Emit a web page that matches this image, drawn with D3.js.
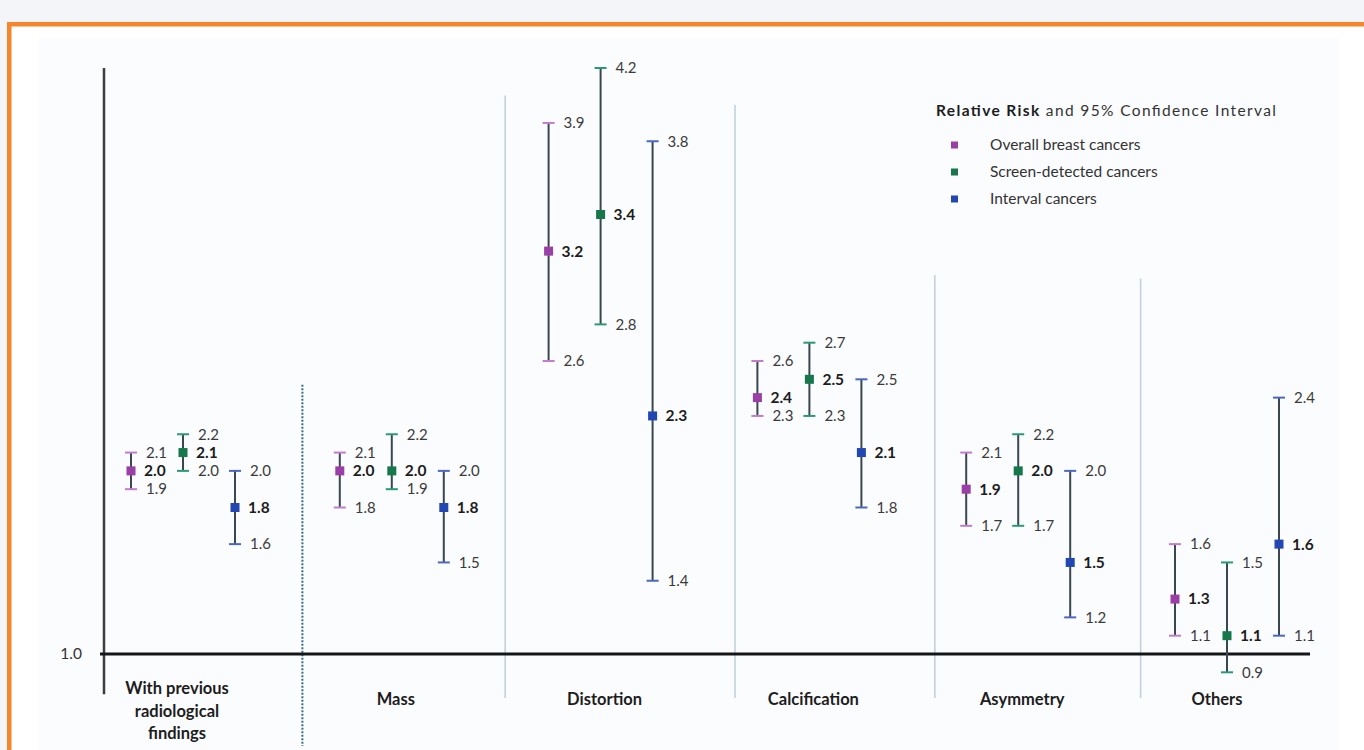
<!DOCTYPE html>
<html>
<head>
<meta charset="utf-8">
<script src="https://cdn.jsdelivr.net/npm/d3@7"></script>
<style>
  html, body { margin: 0; padding: 0; background: #f4f5f9; }
  svg { display: block; }
  text { font-family: Lato, "Open Sans", sans-serif; }
</style>
</head>
<body>
<div id="chart"></div>
<script>
(function() {
  'use strict';

  var categories = ['With previous radiological findings', 'Mass', 'Distortion', 'Calcification', 'Asymmetry', 'Others'];
  var categoryLines = [['With previous', 'radiological', 'findings'], ['Mass'], ['Distortion'], ['Calcification'], ['Asymmetry'], ['Others']];
  var seriesNames = ['Overall breast cancers', 'Screen-detected cancers', 'Interval cancers'];

  var overallRR = [2.0, 2.0, 3.2, 2.4, 1.9, 1.3];
  var overallLo = [1.9, 1.8, 2.6, 2.3, 1.7, 1.1];
  var overallHi = [2.1, 2.1, 3.9, 2.6, 2.1, 1.6];

  var screenRR = [2.1, 2.0, 3.4, 2.5, 2.0, 1.1];
  var screenLo = [2.0, 1.9, 2.8, 2.3, 1.7, 0.9];
  var screenHi = [2.2, 2.2, 4.2, 2.7, 2.2, 1.5];

  var intervalRR = [1.8, 1.8, 2.3, 2.1, 1.5, 1.6];
  var intervalLo = [1.6, 1.5, 1.4, 1.8, 1.2, 1.1];
  var intervalHi = [2.0, 2.0, 3.8, 2.5, 2.0, 2.4];

  // top of each separator line, in relative-risk units, and its shift past the band edge
  var separatorTops = [2.47, 4.05, 4.0, 3.07, 3.05];
  var separatorShift = [15, 9, 30, 21, 18];

  var markColors = ['#9a3fa6', '#16774a', '#2247b2'];
  var capColors = ['#c27ccc', '#2a9a72', '#4a68c2'];

  var width = 1364, height = 750;

  var svg = d3.select('#chart')
    .append('svg')
    .attr('width', width)
    .attr('height', height);

  // orange frame + picture area
  svg.append('rect')
    .attr('x', 7).attr('y', 22)
    .attr('width', width).attr('height', height)
    .attr('fill', '#f5862b');
  svg.append('rect')
    .attr('x', 11.5).attr('y', 26.5)
    .attr('width', width).attr('height', height)
    .attr('fill', '#ffffff');
  svg.append('rect')
    .attr('x', 38).attr('y', 38)
    .attr('width', 1301).attr('height', height)
    .attr('fill', '#fbfcfe');

  var y = d3.scaleLinear()
    .domain([1.0, 4.2])
    .range([654, 68]);

  var xGroup = d3.scaleBand()
    .domain(categories)
    .range([78.6, 1331.4]);

  var xSeries = d3.scalePoint()
    .domain(seriesNames)
    .range([-52, 52]);

  var fmt = d3.format('.1f');

  var rows = [];
  var rr = [overallRR, screenRR, intervalRR];
  var lo = [overallLo, screenLo, intervalLo];
  var hi = [overallHi, screenHi, intervalHi];
  categories.forEach(function(c, i) {
    seriesNames.forEach(function(s, j) {
      rows.push({
        cat: c, series: s, idx: j,
        rr: rr[j][i], lo: lo[j][i], hi: hi[j][i],
        x: xGroup(c) + xGroup.bandwidth() / 2 + xSeries(s)
      });
    });
  });

  // separators between groups
  function sepX(c, i) { return xGroup(c) + xGroup.bandwidth() + separatorShift[i]; }

  svg.selectAll('.sep')
    .data(categories.slice(0, -1))
    .enter().append('line')
    .attr('class', 'sep')
    .attr('x1', sepX)
    .attr('x2', sepX)
    .attr('y1', function(c, i) { return y(separatorTops[i]); })
    .attr('y2', function(c, i) { return i === 0 ? 746 : 698; })
    .attr('stroke', function(c, i) { return i === 0 ? '#3f6a86' : '#c3d1dc'; })
    .attr('stroke-width', function(c, i) { return i === 0 ? 2 : 1.6; })
    .attr('stroke-dasharray', function(c, i) { return i === 0 ? '2,1.5' : null; });

  // left axis and the 1.0 reference line
  svg.append('line')
    .attr('x1', 104).attr('x2', 104)
    .attr('y1', y(4.2)).attr('y2', y(0.78))
    .attr('stroke', '#3a3d44')
    .attr('stroke-width', 2.5);

  svg.append('line')
    .attr('x1', 100).attr('x2', 1310)
    .attr('y1', y(1.0)).attr('y2', y(1.0))
    .attr('stroke', '#141618')
    .attr('stroke-width', 3);

  svg.append('text')
    .attr('x', 82).attr('y', y(1.0))
    .attr('dy', '0.35em')
    .attr('text-anchor', 'end')
    .attr('font-size', 15.5)
    .attr('fill', '#333')
    .text(fmt(1.0));

  // error bars
  var bar = svg.selectAll('.bar')
    .data(rows)
    .enter().append('g')
    .attr('class', 'bar');

  bar.append('line')
    .attr('x1', function(d) { return d.x; })
    .attr('x2', function(d) { return d.x; })
    .attr('y1', function(d) { return y(d.hi); })
    .attr('y2', function(d) { return y(d.lo); })
    .attr('stroke', '#3b4750')
    .attr('stroke-width', 2);

  ['hi', 'lo'].forEach(function(k) {
    bar.append('line')
      .attr('x1', function(d) { return d.x - 6; })
      .attr('x2', function(d) { return d.x + 6; })
      .attr('y1', function(d) { return y(d[k]); })
      .attr('y2', function(d) { return y(d[k]); })
      .attr('stroke', function(d) { return capColors[d.idx]; })
      .attr('stroke-width', 2);

    bar.append('text')
      .attr('x', function(d) { return d.x + 15; })
      .attr('y', function(d) { return y(d[k]); })
      .attr('dy', '0.35em')
      .attr('font-size', 15)
      .attr('fill', '#3a3a3a')
      .text(function(d) { return fmt(d[k]); });
  });

  bar.append('rect')
    .attr('x', function(d) { return d.x - 4.5; })
    .attr('y', function(d) { return y(d.rr) - 4.5; })
    .attr('width', 9).attr('height', 9)
    .attr('fill', function(d) { return markColors[d.idx]; });

  bar.append('text')
    .attr('x', function(d) { return d.x + 13; })
    .attr('y', function(d) { return y(d.rr); })
    .attr('dy', '0.35em')
    .attr('font-size', 15.5)
    .attr('font-weight', 'bold')
    .attr('fill', '#1d1d1d')
    .text(function(d) { return fmt(d.rr); });

  // category labels
  var catLabel = svg.selectAll('.cat')
    .data(categories)
    .enter().append('text')
    .attr('class', 'cat')
    .attr('text-anchor', 'middle')
    .attr('font-size', 16.5)
    .attr('font-weight', 'bold')
    .attr('fill', '#1d1d1d')
    .attr('transform', function(c, i) {
      var lines = categoryLines[i].length;
      var cx = xGroup(c) + xGroup.bandwidth() / 2 + (i === 0 ? -6 : i === 5 ? -10 : 4);
      return 'translate(' + cx + ',' + (lines > 1 ? 694 : 705) + ')';
    });

  catLabel.selectAll('tspan')
    .data(function(c, i) { return categoryLines[i]; })
    .enter().append('tspan')
    .attr('x', 0)
    .attr('dy', function(t, i) { return i === 0 ? 0 : 22.5; })
    .text(function(t) { return t; });

  // legend
  var legend = svg.append('g')
    .attr('transform', 'translate(936,111)');

  var title = legend.append('text')
    .attr('dy', '0.35em')
    .attr('font-size', 15.5)
    .attr('fill', '#333')
    .attr('textLength', 340)
    .attr('lengthAdjust', 'spacing');
  title.append('tspan').attr('font-weight', 'bold').attr('fill', '#1d1d1d').text('Relative Risk');
  title.append('tspan').text(' and 95% Confidence Interval');

  var item = legend.selectAll('.item')
    .data(seriesNames)
    .enter().append('g')
    .attr('class', 'item')
    .attr('transform', function(s, i) { return 'translate(0,' + (34 + i * 27) + ')'; });

  item.append('rect')
    .attr('x', 15).attr('y', -3.5)
    .attr('width', 7).attr('height', 7)
    .attr('fill', function(s, i) { return markColors[i]; });

  item.append('text')
    .attr('x', 54)
    .attr('dy', '0.35em')
    .attr('font-size', 15.5)
    .attr('fill', '#333')
    .text(function(s) { return s; });
})();
</script>
</body>
</html>
